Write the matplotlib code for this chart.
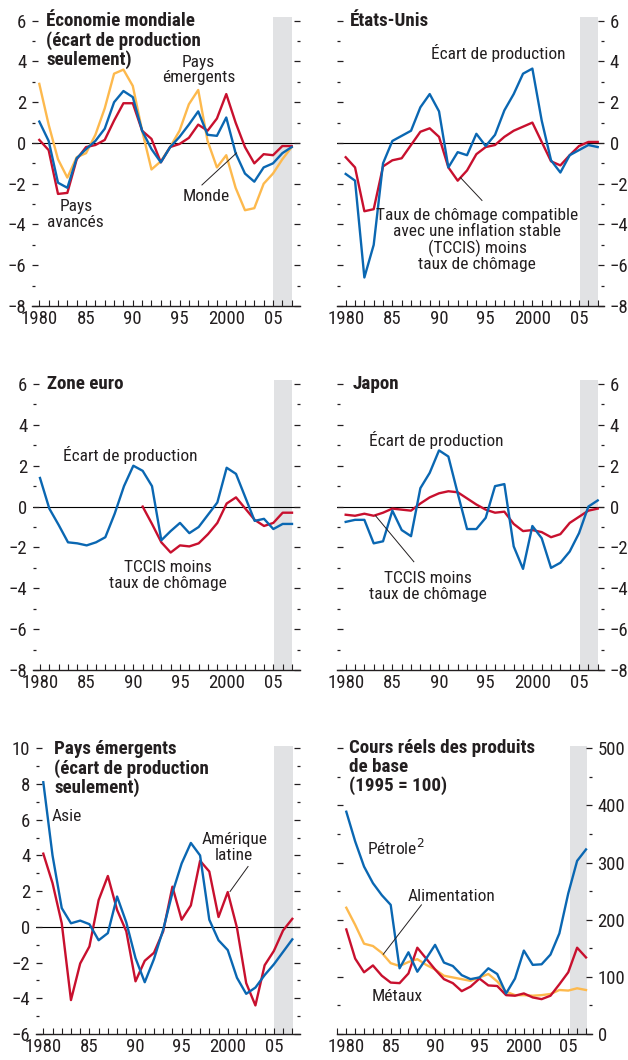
import numpy as np
import matplotlib
matplotlib.use('Agg')
import matplotlib.pyplot as plt
from matplotlib import font_manager
from matplotlib.ticker import MultipleLocator, FixedLocator

# police étroite si elle existe
noms = {f.name for f in font_manager.fontManager.ttflist}
police = 'Liberation Sans'
for fam in ['Roboto Condensed', 'Liberation Sans Narrow', 'Open Sans Condensed']:
    if fam in noms:
        police = fam
        break
plt.rcParams['font.family'] = [police, 'DejaVu Sans']

BLEU = '#0a67b2'
ROUGE = '#c8102e'
JAUNE = '#fdb94d'
GRIS = '#e1e2e4'
TXT = '#231f20'

annees = np.arange(1980, 2008)

# --- Économie mondiale
monde_emergents = [2.9, 0.9, -0.8, -1.7, -0.7, -0.5, 0.4, 1.7, 3.4, 3.6, 2.8, 0.6, -1.3, -0.9,
                   -0.2, 0.6, 1.9, 2.6, 0.1, -1.2, -0.6, -2.2, -3.3, -3.2, -2.0, -1.5, -0.8, -0.2]
monde_total = [1.05, 0.1, -1.95, -2.2, -0.75, -0.3, 0.1, 0.7, 2.0, 2.55, 2.25, 0.6, -0.3, -0.95,
               -0.2, 0.3, 0.9, 1.55, 0.4, 0.35, 1.25, -0.5, -1.5, -1.9, -1.2, -1.0, -0.5, -0.2]
monde_avances = [0.15, -0.35, -2.5, -2.45, -0.8, -0.2, -0.1, 0.15, 1.1, 1.95, 1.95, 0.6, 0.2, -0.95,
                 -0.2, -0.05, 0.25, 0.9, 0.6, 1.2, 2.4, 1.0, -0.2, -1.0, -0.55, -0.6, -0.15, -0.15]

# --- États-Unis
eu_ecart = [-1.52, -1.85, -6.6, -5.0, -1.0, 0.1, 0.35, 0.6, 1.75, 2.4, 1.55, -1.2, -0.45, -0.6,
            0.45, -0.15, 0.4, 1.6, 2.4, 3.4, 3.65, 1.1, -0.85, -1.45, -0.6, -0.35, -0.1, -0.2]
eu_tccis = [-0.7, -1.2, -3.35, -3.25, -1.15, -0.85, -0.75, -0.1, 0.55, 0.72, 0.3, -1.2, -1.85, -1.35,
            -0.55, -0.2, -0.1, 0.3, 0.6, 0.8, 1.0, 0.05, -0.9, -1.1, -0.6, -0.15, 0.05, 0.05]

# --- Zone euro (TCCIS à partir de 1991)
ze_ecart = [1.4, -0.1, -0.9, -1.75, -1.8, -1.9, -1.75, -1.5, -0.35, 1.0, 2.0, 1.75, 1.0, -1.65,
            -1.2, -0.8, -1.3, -1.0, -0.4, 0.2, 1.9, 1.6, 0.45, -0.7, -0.6, -1.1, -0.85, -0.85]
ze_tccis = [np.nan] * 11 + [0.0, -0.85, -1.75, -2.25, -1.9, -1.95, -1.8, -1.35, -0.8, 0.15, 0.45,
                            -0.1, -0.65, -0.95, -0.8, -0.3, -0.3]

# --- Japon
jp_ecart = [-0.75, -0.65, -0.65, -1.8, -1.7, -0.2, -1.15, -1.45, 0.9, 1.65, 2.75, 2.45, 0.65, -1.1,
            -1.1, -0.55, 1.0, 1.1, -1.95, -3.05, -0.95, -1.55, -3.0, -2.75, -2.2, -1.3, 0.0, 0.3]
jp_tccis = [-0.4, -0.45, -0.35, -0.45, -0.3, -0.1, -0.15, -0.2, 0.15, 0.45, 0.65, 0.75, 0.7, 0.4,
            0.1, -0.15, -0.3, -0.25, -0.85, -1.2, -1.15, -1.25, -1.5, -1.35, -0.8, -0.5, -0.2, -0.1]

# --- Pays émergents
asie = [8.1, 4.0, 1.05, 0.2, 0.35, 0.15, -0.75, -0.35, 1.7, 0.25, -1.75, -3.1, -1.8, -0.15,
        1.9, 3.55, 4.7, 4.0, 0.4, -0.75, -1.3, -2.85, -3.75, -3.4, -2.7, -2.1, -1.4, -0.7]
amlat = [4.1, 2.45, 0.2, -4.1, -2.05, -1.1, 1.5, 2.85, 0.95, -0.25, -3.05, -1.9, -1.45, -0.25,
         2.25, 0.4, 1.2, 3.7, 3.1, 0.55, 1.95, -0.05, -3.15, -4.4, -2.15, -1.35, -0.2, 0.45]

# --- Cours réels des produits de base (1995 = 100)
petrole = [389, 337, 293, 264, 243, 226, 115, 143, 109, 132, 156, 125, 119, 103,
           96, 99, 115, 105, 71, 97, 146, 121, 122, 139, 176, 246, 303, 323]
alimentation = [221, 191, 158, 154, 142, 124, 119, 126, 131, 121, 113, 102, 99, 96,
                93, 99, 105, 92, 74, 68, 68, 67, 68, 70, 77, 76, 80, 77]
metaux = [183, 132, 108, 120, 102, 90, 89, 106, 151, 132, 113, 96, 89, 75,
          83, 97, 85, 84, 68, 67, 71, 64, 61, 67, 87, 108, 151, 134]

W, H = 628, 1060
fig = plt.figure(figsize=(W / 100, H / 100), dpi=100)


def panneau(gauche, droite, haut, x80, x07, yv1, yp1, yv2, yp2, cote, gris=(2005.05, 2007.05)):
    # positions en pixels -> axes et limites
    ax = fig.add_axes([gauche / W, 1 - yp2 / H, (droite - gauche) / W, (yp2 - haut) / H])
    pas = (x07 - x80) / 27
    ax.set_xlim(1980 - (x80 - gauche) / pas, 2007 + (droite - x07) / pas)
    upx = (yp2 - yp1) / (yv1 - yv2)
    ax.set_ylim(yv2, yv1 + (yp1 - haut) / upx)
    ax.axvspan(gris[0], gris[1], color=GRIS, lw=0, zorder=0)
    for s in ['top', 'left', 'right']:
        ax.spines[s].set_visible(False)
    ax.spines['bottom'].set_linewidth(1.0)
    ax.spines['bottom'].set_color(TXT)
    ax.xaxis.set_major_locator(FixedLocator([1980, 1985, 1990, 1995, 2000, 2005]))
    ax.xaxis.set_minor_locator(MultipleLocator(1))
    ax.set_xticklabels(['1980', '85', '90', '95', '2000', '05'])
    ax.tick_params(axis='x', which='both', direction='in', length=4, width=0.8,
                   color=TXT, labelsize=13.5, labelcolor=TXT, pad=3)
    ax.tick_params(axis='y', which='both', direction='in', width=0.9, color=TXT,
                   labelsize=13.5, labelcolor=TXT, pad=4,
                   left=True, right=True,
                   labelleft=(cote == 'g'), labelright=(cote == 'd'))
    ax.tick_params(axis='y', which='major', length=4.5)
    ax.tick_params(axis='y', which='minor', length=2.5)
    return ax


def titre(ax, x, y, texte):
    ax.text(x, y, texte, fontsize=13.7, fontweight='bold', color=TXT, ha='left', va='top',
            linespacing=1.04)


def note(ax, x, y, texte, ha='center'):
    ax.text(x, y, texte, fontsize=12.5, color=TXT, ha=ha, va='center', linespacing=1.05)


def trait(ax, x1, y1, x2, y2):
    ax.plot([x1, x2], [y1, y2], color=TXT, lw=0.7, zorder=4)


LW = 1.7

# 1. Économie mondiale
ax = panneau(32, 300, 17, 39.3, 291.7, 6, 20.7, -8, 306, 'g')
ax.yaxis.set_major_locator(MultipleLocator(2))
ax.yaxis.set_minor_locator(MultipleLocator(1))
ax.axhline(0, color='black', lw=0.8, zorder=1)
ax.plot(annees, monde_emergents, color=JAUNE, lw=LW, zorder=2)
ax.plot(annees, monde_avances, color=ROUGE, lw=LW, zorder=3)
ax.plot(annees, monde_total, color=BLEU, lw=LW, zorder=3)
titre(ax, 1980.75, 6.42, 'Économie mondiale\n(écart de production\nseulement)')
note(ax, 1983.9, -3.5, 'Pays\navancés')
note(ax, 1997.05, 3.58, 'Pays\némergents')
note(ax, 1997.9, -2.65, 'Monde')
trait(ax, 1997.4, -2.06, 2001.1, -0.49)

# 2. États-Unis
ax = panneau(337, 604, 17, 345.7, 597.7, 6, 20.7, -8, 306, 'd')
ax.yaxis.set_major_locator(MultipleLocator(2))
ax.yaxis.set_minor_locator(MultipleLocator(1))
ax.axhline(0, color='black', lw=0.8, zorder=1)
ax.plot(annees, eu_tccis, color=ROUGE, lw=LW, zorder=2)
ax.plot(annees, eu_ecart, color=BLEU, lw=LW, zorder=3)
titre(ax, 1980.5, 6.42, 'États-Unis')
note(ax, 1996.36, 4.4, 'Écart de production')
note(ax, 1994.1, -4.78, 'Taux de chômage compatible\navec une inflation stable\n(TCCIS) moins\ntaux de chômage')
trait(ax, 1992.3, -1.7, 1994.6, -2.82)

# 3. Zone euro
ax = panneau(33, 300, 380, 40, 292, 6, 384, -8, 670, 'g')
ax.yaxis.set_major_locator(MultipleLocator(2))
ax.yaxis.set_minor_locator(MultipleLocator(1))
ax.axhline(0, color='black', lw=0.8, zorder=1)
ax.plot(annees, ze_tccis, color=ROUGE, lw=LW, zorder=2)
ax.plot(annees, ze_ecart, color=BLEU, lw=LW, zorder=3)
titre(ax, 1980.8, 6.42, 'Zone euro')
note(ax, 1989.65, 2.53, 'Écart de production')
note(ax, 1993.75, -3.38, 'TCCIS moins\ntaux de chômage')

# 4. Japon
ax = panneau(337, 604, 380, 345.7, 597.7, 6, 384, -8, 670, 'd')
ax.yaxis.set_major_locator(MultipleLocator(2))
ax.yaxis.set_minor_locator(MultipleLocator(1))
ax.axhline(0, color='black', lw=0.8, zorder=1)
ax.plot(annees, jp_tccis, color=ROUGE, lw=LW, zorder=2)
ax.plot(annees, jp_ecart, color=BLEU, lw=LW, zorder=3)
titre(ax, 1980.75, 6.42, 'Japon')
note(ax, 1989.65, 3.27, 'Écart de production')
note(ax, 1988.8, -3.9, 'TCCIS moins\ntaux de chômage')
trait(ax, 1983.2, -0.45, 1987.3, -2.7)

# 5. Pays émergents
ax = panneau(36, 300, 746, 43.3, 292.3, 10, 748.3, -6, 1034, 'g')
ax.yaxis.set_major_locator(MultipleLocator(2))
ax.yaxis.set_minor_locator(MultipleLocator(1))
ax.axhline(0, color='black', lw=0.8, zorder=1)
ax.plot(annees, amlat, color=ROUGE, lw=LW, zorder=2)
ax.plot(annees, asie, color=BLEU, lw=LW, zorder=3)
titre(ax, 1981.2, 10.44, 'Pays émergents\n(écart de production\nseulement)')
note(ax, 1982.55, 6.18, 'Asie')
note(ax, 2000.7, 4.46, 'Amérique\nlatine')
trait(ax, 2002.2, 3.38, 2000.25, 1.98)

# 6. Cours réels des produits de base
ax = panneau(337, 592, 746, 346.3, 586, 500, 748.3, 0, 1034, 'd', gris=(2005.25, 2007.1))
ax.yaxis.set_major_locator(MultipleLocator(100))
ax.yaxis.set_minor_locator(MultipleLocator(50))
ax.plot(annees, alimentation, color=JAUNE, lw=LW, zorder=2)
ax.plot(annees, metaux, color=ROUGE, lw=LW, zorder=3)
ax.plot(annees, petrole, color=BLEU, lw=LW, zorder=3)
titre(ax, 1980.3, 516, 'Cours réels des produits\nde base\n(1995 = 100)')
note(ax, 1982.3, 325, 'Pétrole$^{2}$', ha='left')
note(ax, 1991.8, 240, 'Alimentation')
note(ax, 1985.75, 65, 'Métaux')
trait(ax, 1988.46, 226, 1984.17, 139.6)

fig.savefig('out.png', dpi=100)
